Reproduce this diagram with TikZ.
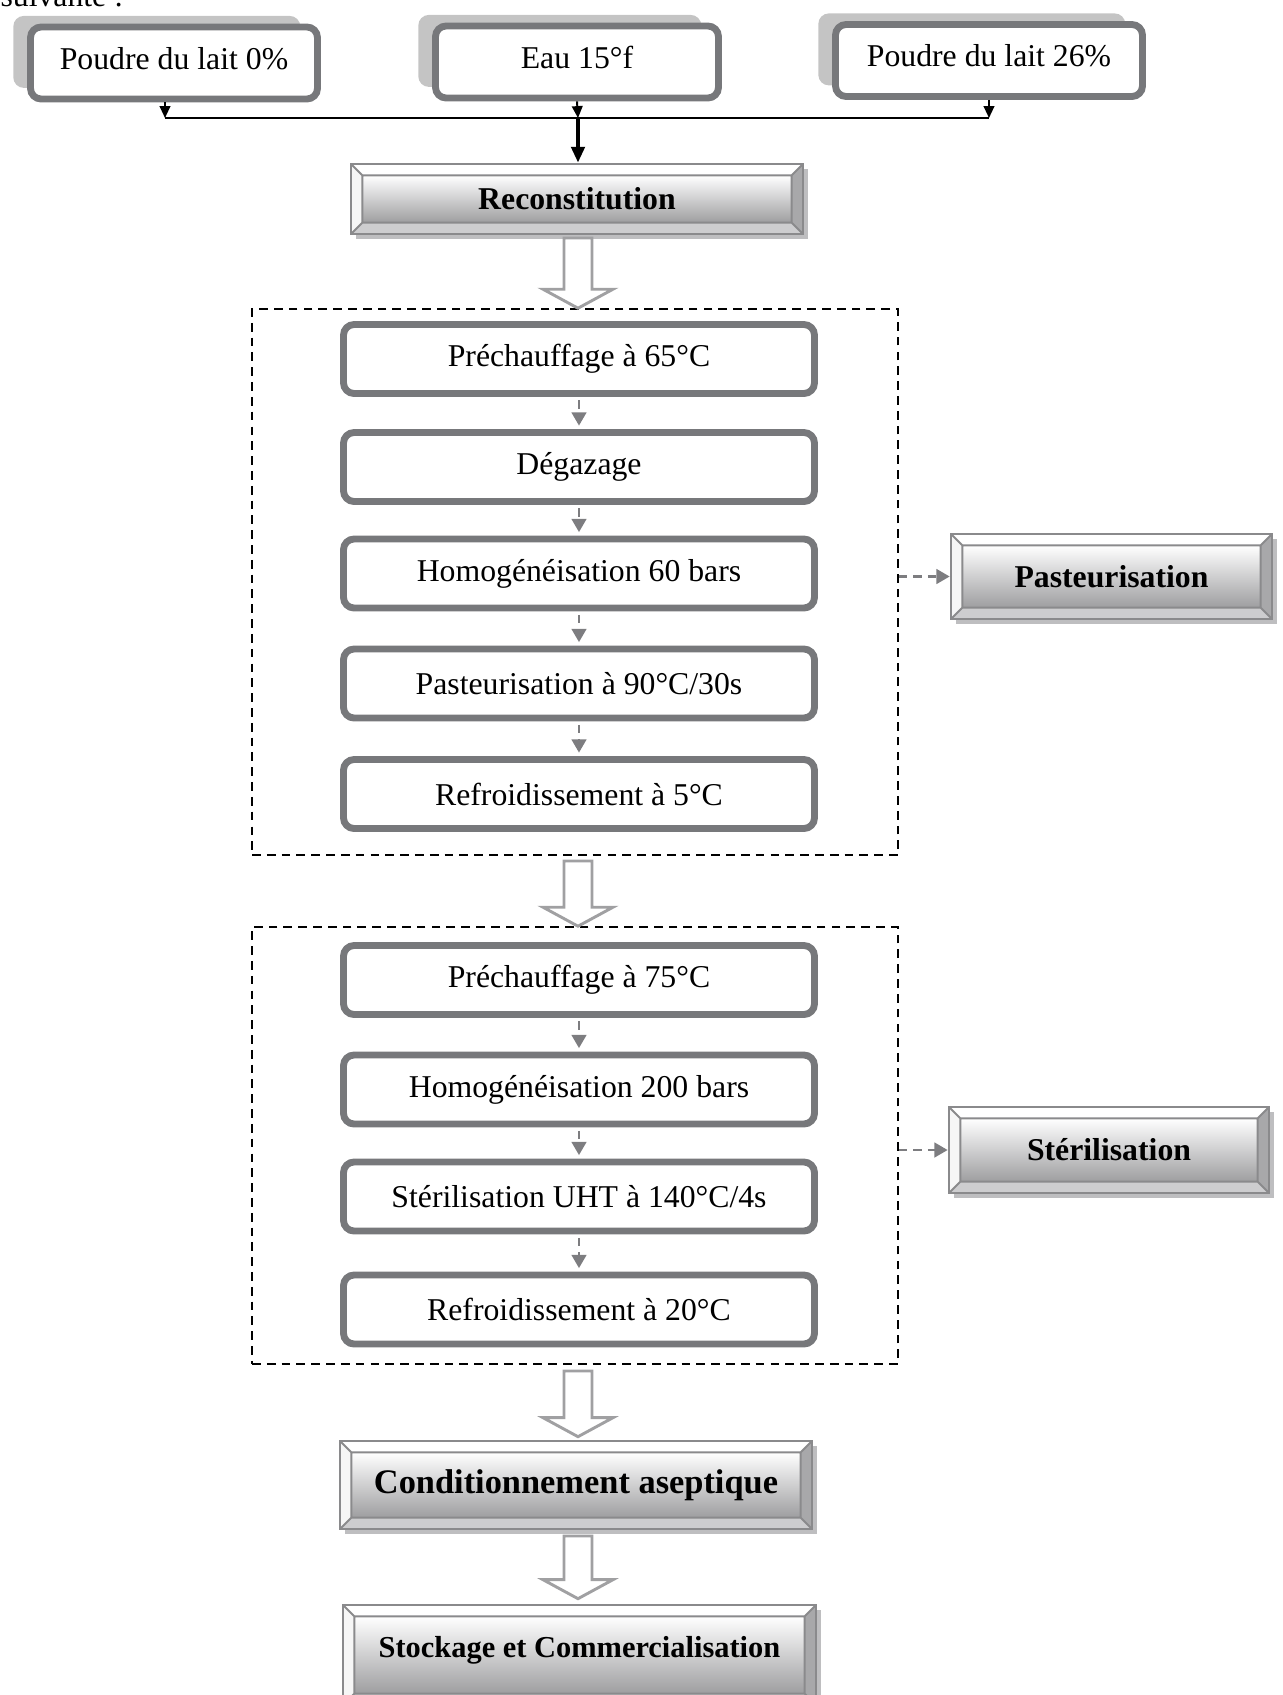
\documentclass[tikz,border=0pt]{standalone}
\usepackage{fontspec}
\setmainfont{Liberation Serif}
\usetikzlibrary{arrows.meta,calc,shadows}
\definecolor{boxc}{RGB}{119,120,123}
\definecolor{shadc}{RGB}{196,196,196}
\definecolor{bevc}{RGB}{138,138,140}
\definecolor{bevface}{RGB}{158,158,160}
\definecolor{bevright}{RGB}{168,168,170}
\definecolor{bevbot}{RGB}{205,205,207}
\definecolor{bevleft}{RGB}{246,246,246}
\definecolor{bevshad}{RGB}{190,190,192}
\definecolor{hollc}{RGB}{160,160,162}
\definecolor{dashc}{RGB}{125,125,128}
\def\px{0.378pt}
\def\bv{4.3pt}
\newcommand\hollowarrow[2]{%
  \draw[hollowline] ($(#1)+(-14,0)$) -- ($(#2)+(-14,-19)$) -- ($(#2)+(-35,-19)$) -- (#2)
    -- ($(#2)+(35,-19)$) -- ($(#2)+(14,-19)$) -- ($(#1)+(14,0)$) -- cycle;}
\tikzset{
  inbox/.style={draw=boxc, line width=2.6pt, rounded corners=4pt, fill=white,
    minimum height={72*\px}, text depth=3.5pt,
    drop shadow={shadow xshift=-6.5pt, shadow yshift=4.2pt, fill=shadc, opacity=1}},
  stepbox/.style={draw=boxc, line width=2.6pt, rounded corners=4pt, fill=white,
    minimum width={471*\px}, minimum height={69*\px}},
  bevel/.style={draw=bevc, line width=1pt, inner sep=0pt, font=\fontsize{12}{14}\selectfont\bfseries,
    drop shadow={shadow xshift=1.9pt, shadow yshift=-1.9pt, fill=bevshad, opacity=1},
    path picture={
      \coordinate (o1) at (path picture bounding box.north west);
      \coordinate (o2) at (path picture bounding box.south east);
      \coordinate (i1) at ($(o1)+(\bv,-\bv)$);
      \coordinate (i2) at ($(o2)+(-\bv,\bv)$);
      \fill[white] (o1) -- (o1 -| o2) -- (i1 -| i2) -- (i1) -- cycle;
      \fill[bevleft] (o1) -- (i1) -- (i1 |- i2) -- (o1 |- o2) -- cycle;
      \fill[bevright] (o1 -| o2) -- (o2) -- (i2) -- (i1 -| i2) -- cycle;
      \fill[bevbot] (o1 |- o2) -- (i1 |- i2) -- (i2) -- (o2) -- cycle;
      \shade[top color=white, bottom color=bevface] (i1) rectangle (i2);
      \draw[bevc, line width=0.7pt] (i1) rectangle (i2) (o1) -- (i1) (o1 -| o2) -- (i1 -| i2)
        (o2) -- (i2) (o1 |- o2) -- (i1 |- i2);
    }},
  dashframe/.style={draw, line width=0.6pt, dash pattern=on 3.3pt off 2.3pt, inner sep=0pt,
    minimum width={646*\px}},
  flowarrow/.style={dashc, line width=1pt, dash pattern=on 3.2pt off 2.3pt,
    -{Triangle[length=5pt,width=5.5pt]}},
  hollowline/.style={draw=hollc, fill=white, line width=1.1pt, line join=miter},
}
\begin{document}
\begin{tikzpicture}[x=0.378pt, y=-0.378pt, font=\fontsize{12}{14}\selectfont, line cap=butt]
  \useasboundingbox (0,0) rectangle (1283,1695);
  \clip (0,0) rectangle (1283,1695);
  \node[anchor=base west, inner sep=0pt] (capt) at (0,6) {suivante :};
  % matieres premieres
  \node[inbox, minimum width={287*\px}] (in0) at (174,63) {Poudre du lait 0\%};
  \node[inbox, minimum width={283*\px}] (in1) at (577,62) {Eau 15°f};
  \node[inbox, minimum width={307*\px}] (in2) at (989,60.5) {Poudre du lait 26\%};
  \coordinate (j0) at (165,118); \coordinate (j1) at (578,118); \coordinate (j2) at (989,118);
  \node[bevel, minimum width={452*\px}, minimum height={70*\px}] (recon) at (577,199) {Reconstitution};
  \draw[line width=0.75pt] (j0) -- (j2);
  \draw[line width=0.75pt, -{Triangle[length=4.5pt,width=4pt]}] (j0 |- in0.south) -- (j0);
  \draw[line width=0.75pt, -{Triangle[length=4.5pt,width=4pt]}] (in1.south) -- (j1);
  \draw[line width=0.75pt, -{Triangle[length=4.5pt,width=4pt]}] (j2 |- in2.south) -- (j2);
  \draw[line width=1.6pt, -{Triangle[length=6pt,width=5pt]}] (j1) -- (j1 |- recon.north);
  % pasteurisation
  \node[dashframe, minimum height={546*\px}] (pastframe) at (575,582) {};
  \node[stepbox] (p1) at (579,359) {Préchauffage à 65°C};
  \node[stepbox] (p2) at (579,467) {Dégazage};
  \node[stepbox] (p3) at (579,573.5) {Homogénéisation 60 bars};
  \node[stepbox] (p4) at (579,683.5) {Pasteurisation à 90°C/30s};
  \node[stepbox] (p5) at (579,794) {Refroidissement à 5°C};
  \node[bevel, minimum width={321*\px}, minimum height={85*\px}] (pastside) at (1111.5,576.5) {Pasteurisation};
  % sterilisation
  \node[dashframe, minimum height={437*\px}] (sterframe) at (575,1145.5) {};
  \node[stepbox] (s1) at (579,980) {Préchauffage à 75°C};
  \node[stepbox] (s2) at (579,1089.5) {Homogénéisation 200 bars};
  \node[stepbox] (s3) at (579,1196.5) {Stérilisation UHT à 140°C/4s};
  \node[stepbox] (s4) at (579,1309.5) {Refroidissement à 20°C};
  \node[bevel, minimum width={320*\px}, minimum height={86*\px}] (sterside) at (1109,1150) {Stérilisation};
  \node[bevel, minimum width={472*\px}, minimum height={88*\px}, font=\fontsize{13}{15}\selectfont\bfseries] (cond) at (576,1485) {Conditionnement aseptique};
  \node[bevel, minimum width={473*\px}, minimum height={100*\px}, font=\fontsize{11.5}{14}\selectfont\bfseries,
    text depth=6pt] (stock) at (579.5,1655) {Stockage et Commercialisation};
  \foreach \a/\b in {p1/p2,p2/p3,p3/p4,p4/p5,s1/s2,s2/s3,s3/s4}
    \draw[flowarrow, shorten <=1.3pt, shorten >=1.3pt] (\a.south) -- (\b.north);
  \draw[flowarrow] (pastframe.east |- pastside.west) -- (pastside.west);
  \draw[flowarrow] (sterframe.east |- sterside.west) -- (sterside.west);
  % fleches creuses
  \coordinate (h1a) at (578,238); \coordinate (h1b) at (h1a |- pastframe.north);
  \coordinate (h2a) at (578,861); \coordinate (h2b) at (h2a |- sterframe.north);
  \coordinate (h3a) at (578,1371); \coordinate (h3b) at ($(h3a |- cond.north)+(0,-3)$);
  \coordinate (h4a) at (578,1536); \coordinate (h4b) at ($(h4a |- stock.north)+(0,-5)$);
  \hollowarrow{h1a}{h1b} \hollowarrow{h2a}{h2b} \hollowarrow{h3a}{h3b} \hollowarrow{h4a}{h4b}
\end{tikzpicture}
\end{document}
